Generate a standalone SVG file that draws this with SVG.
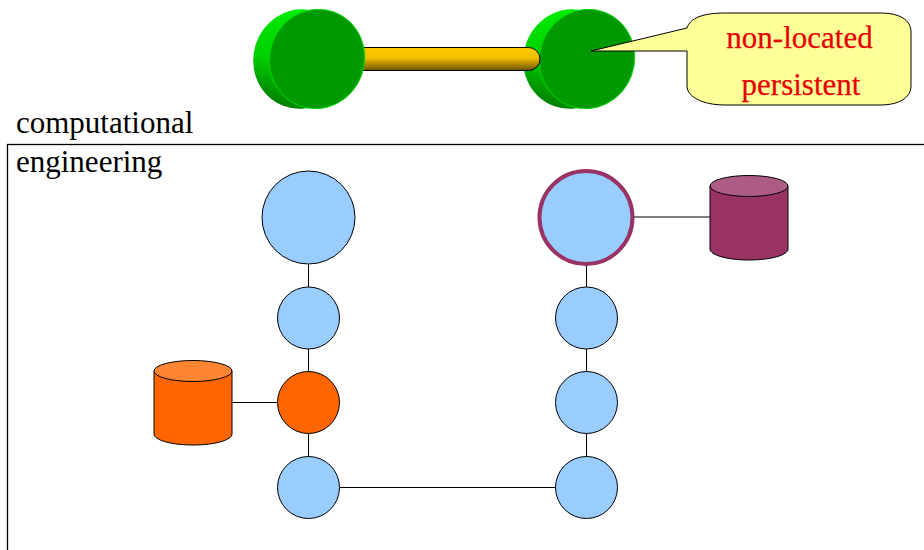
<svg xmlns="http://www.w3.org/2000/svg" width="924" height="550" viewBox="0 0 924 550">
<style>
text{font-family:"Liberation Serif","Times New Roman",serif}
.lbl{font-size:31px;fill:#000}
.call{font-size:31px;fill:#e80000;stroke:#e80000;stroke-width:0.25;text-anchor:middle}
.line{stroke:#000;stroke-width:1;fill:none}
.n{fill:#99ccff;stroke:#000;stroke-width:1}
</style>
<defs>
<linearGradient id="bar" x1="0" y1="0" x2="0" y2="1"><stop offset="0" stop-color="#ffcc00"/><stop offset="0.45" stop-color="#f2c000"/><stop offset="1" stop-color="#6b5200"/></linearGradient>
<linearGradient id="rim" x1="0" y1="0" x2="0" y2="1"><stop offset="0" stop-color="#00f000"/><stop offset="0.6" stop-color="#00d000"/><stop offset="1" stop-color="#008000"/></linearGradient>
<g id="disc"><ellipse cx="-15" cy="0" rx="47.500" ry="50" fill="url(#rim)" transform="rotate(20 -15 0)"/><ellipse cx="1" cy="0" rx="47.500" ry="50" fill="#009900" stroke="#00dd00" stroke-width="0.800" transform="rotate(20 1 0)"/></g>
</defs>
<rect x="7.500" y="144.500" width="930" height="420" fill="none" stroke="#000" stroke-width="1.300"/>
<text class="lbl" x="16" y="133">computational</text>
<text class="lbl" x="16" y="172">engineering</text>
<g id="disc-right"><use href="#disc" x="586" y="59"/></g>
<g id="link-bar"><rect x="340" y="47.500" width="200" height="23" rx="11.500" fill="url(#bar)" stroke="#000" stroke-width="1"/></g>
<g id="disc-left"><use href="#disc" x="316" y="59"/></g>
<g id="connectors">
<path class="line" d="M308.500 264V287M308.500 349V372M308.500 434V457M586.500 264V287M586.500 349V372M586.500 434V457M340 487.500H556M232 402.500H278M633 217H710"/>
</g>
<g id="n1"><circle class="n" cx="308.500" cy="217.500" r="46.500"/></g>
<g id="n2"><circle class="n" cx="308.500" cy="318" r="31"/></g>
<g id="n3"><circle cx="308.500" cy="402.500" r="31" fill="#ff6600" stroke="#000"/></g>
<g id="n4"><circle class="n" cx="308.500" cy="487.500" r="31"/></g>
<g id="n5"><circle cx="586" cy="217.500" r="46.500" fill="#99ccff" stroke="#993366" stroke-width="4"/></g>
<g id="n6"><circle class="n" cx="586.500" cy="318" r="31"/></g>
<g id="n7"><circle class="n" cx="586.500" cy="402.500" r="31"/></g>
<g id="n8"><circle class="n" cx="586.500" cy="487.500" r="31"/></g>
<g id="db-orange"><path d="M154 371V434C154 440 171 445 193 445S232 440 232 434V371Z" fill="#ff6600" stroke="#000"/><ellipse cx="193" cy="371" rx="39" ry="10.500" fill="#ff8533" stroke="#000"/></g>
<g id="db-purple"><path d="M710 186V249C710 255 727 260 749 260S788 255 788 249V186Z" fill="#993366" stroke="#000"/><ellipse cx="749" cy="186" rx="39" ry="10.500" fill="#ad5c85" stroke="#000"/></g>
<g id="callout">
<path d="M591 51L687 28C690 18 703 13 725 13H880C900 13 911 20 911 32V86C911 97 900 105 880 105H725C703 105 687 97 687 86V51Z" fill="#ffff99" stroke="#000"/>
<text class="call" x="799.500" y="48">non-located</text>
<text class="call" x="801" y="95">persistent</text>
</g>
</svg>
